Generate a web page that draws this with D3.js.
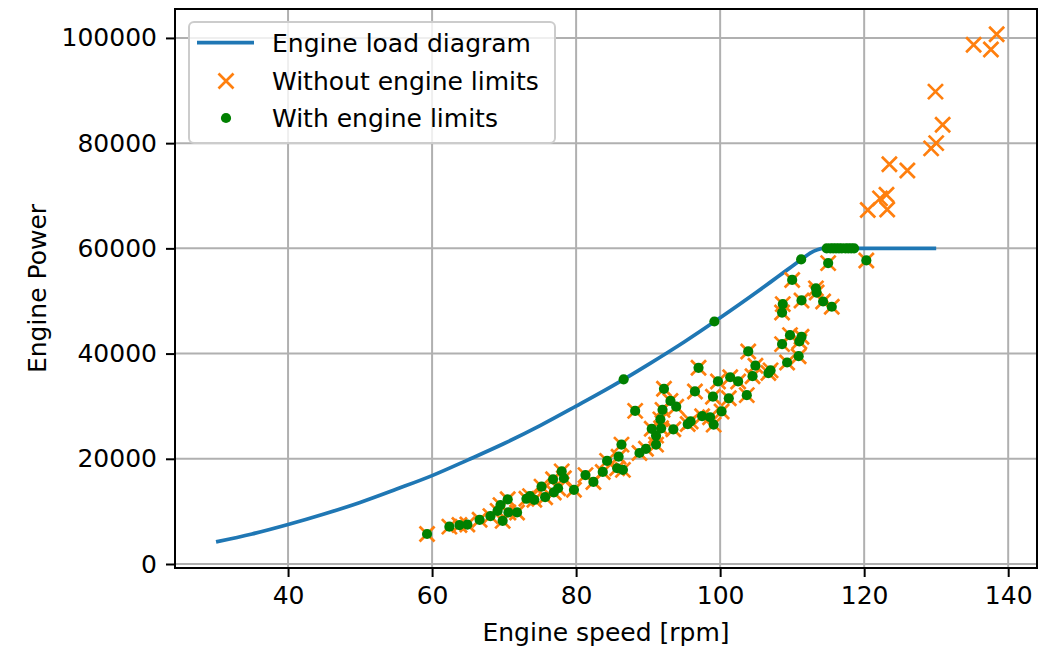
<!DOCTYPE html>
<html>
<head>
<meta charset="utf-8">
<script src="https://cdn.jsdelivr.net/npm/d3@7"></script>
<style>
  html, body { margin: 0; padding: 0; background: #fff; }
  svg { display: block; }
  text { font-family: "DejaVu Sans", sans-serif; fill: #000; }
</style>
</head>
<body>
<svg id="chart" width="1056" height="647"></svg>
<script>
// ---------- data ----------
const xTicks = [40, 60, 80, 100, 120, 140];
const yTicks = [0, 20000, 40000, 60000, 80000, 100000];

// Engine load diagram
const loadSpeed = [30, 35, 40, 45, 50, 55, 60, 65, 70, 75, 80, 85, 90, 95, 100, 105, 108, 110, 111.5, 112.5, 113.5, 114.5, 120, 125, 130];
const loadPower = [4200, 5700, 7500, 9500, 11700, 14200, 16800, 19800, 22900, 26300, 30000, 33800, 37900, 42200, 46800, 51600, 54600, 56600, 58100, 59100, 59750, 60000, 60000, 60000, 60000];

// Operating points inside the limits (shown in both series)
const insideSpeed = [59.3, 62.4, 63.8, 64.9, 66.6, 68.1, 69.8, 69.1, 69.5, 70.5, 70.6, 71.8, 73.1, 73.6, 74.2, 75.2, 75.7, 76.8, 76.9, 77.5,
  78.0, 78.3, 79.7, 81.3, 82.4, 83.7, 84.3, 85.9, 86.3, 85.7, 86.5, 88.2, 88.8, 89.7, 91.1, 90.5, 91.1, 91.7, 91.8, 92.0,
  93.5, 93.1, 92.2, 93.9, 95.5, 95.9, 97.0, 96.5, 97.5, 98.6, 99.1, 100.2, 99.0, 99.7, 101.2, 101.4, 102.5, 103.7, 104.5, 104.9,
  106.7, 107.0, 103.9, 108.6, 115.0, 120.3, 110.0, 113.3, 113.4, 111.3, 114.3, 115.5, 108.7, 108.6, 109.7, 111.3, 111.0, 110.9, 109.3];
const insidePower = [5700, 7100, 7400, 7500, 8400, 9100, 8200, 10100, 11200, 12300, 9800, 9800, 12400, 12900, 12200, 14700, 12700, 16100, 13600, 14400,
  17600, 16300, 14100, 16900, 15600, 17500, 19600, 20400, 22700, 18200, 17900, 29100, 21100, 21900, 22700, 25700, 24400, 27500, 25800, 29300,
  25600, 31000, 33300, 29900, 26600, 27100, 37300, 32800, 28100, 27900, 26500, 29000, 31800, 34700, 31500, 35500, 34700, 32100, 35700, 37700,
  36300, 36800, 40400, 41800, 57200, 57700, 54000, 52400, 51600, 50100, 49900, 48900, 49400, 47800, 43500, 43200, 42300, 39500, 38300];

// Points exceeding the limits (only without engine limits)
const excessSpeed = [120.5, 122.2, 123.1, 123.2, 123.5, 126.0, 129.3, 130.0, 130.9, 129.9, 135.2, 137.6, 138.4];
const excessPower = [67300, 69500, 70200, 67400, 76000, 74800, 79000, 80000, 83500, 89800, 98700, 97800, 100700];

// The same points after limiting (only with engine limits)
const limitedSpeed = [86.6, 99.2, 111.25, 114.8, 115.3, 115.7, 116.1, 116.5, 116.9, 117.4, 117.8, 118.2, 118.6];
const limitedPower = [35100, 46100, 57900, 60000, 60000, 60000, 60000, 60000, 60000, 60000, 60000, 60000, 60000];

const seriesNames = ["Engine load diagram", "Without engine limits", "With engine limits"];

// ---------- layout ----------
const L = 175, R = 1037, T = 9, B = 568;
const svg = d3.select("#chart");
const x = d3.scaleLinear().domain([24.3, 144.0]).range([L, R]);
const y = d3.scaleLinear().domain([-760, 105500]).range([B, T]);

const C_LINE = "#1f77b4", C_X = "#ff7f0e", C_DOT = "#008000";
const FS = 25;

// grid
const grid = svg.append("g");
grid.selectAll("line.gx").data(xTicks).join("line")
  .attr("x1", d => x(d)).attr("x2", d => x(d)).attr("y1", T).attr("y2", B)
  .attr("stroke", "#b0b0b0").attr("stroke-width", 2);
grid.selectAll("line.gy").data(yTicks).join("line")
  .attr("y1", d => y(d)).attr("y2", d => y(d)).attr("x1", L).attr("x2", R)
  .attr("stroke", "#b0b0b0").attr("stroke-width", 2);

// axes
const xAxis = d3.axisBottom(x).tickValues(xTicks).tickSize(9).tickPadding(9).tickFormat(d3.format("d"));
const yAxis = d3.axisLeft(y).tickValues(yTicks).tickSize(9).tickPadding(9).tickFormat(d3.format("d"));
const gx = svg.append("g").attr("transform", `translate(0,${B})`).call(xAxis);
const gy = svg.append("g").attr("transform", `translate(${L},0)`).call(yAxis);
[gx, gy].forEach(g => {
  g.select(".domain").remove();
  g.selectAll(".tick line").attr("stroke", "#000").attr("stroke-width", 2);
  g.selectAll(".tick text").attr("font-family", "DejaVu Sans").attr("font-size", FS).attr("fill", "#000");
});

// data
const lineData = loadSpeed.map((s, i) => [s, loadPower[i]]);
const noLimit = insideSpeed.map((s, i) => [s, insidePower[i]]).concat(excessSpeed.map((s, i) => [s, excessPower[i]]));
const withLimit = insideSpeed.map((s, i) => [s, insidePower[i]]).concat(limitedSpeed.map((s, i) => [s, limitedPower[i]]));

const plot = svg.append("g");
plot.append("path").datum(lineData)
  .attr("fill", "none").attr("stroke", C_LINE).attr("stroke-width", 3.75)
  .attr("d", d3.line().x(d => x(d[0])).y(d => y(d[1])).curve(d3.curveMonotoneX));

const xs = 7.5;
const xPath = `M${-xs},${-xs}L${xs},${xs}M${-xs},${xs}L${xs},${-xs}`;
plot.selectAll("path.xm").data(noLimit).join("path")
  .attr("class", "xm")
  .attr("transform", d => `translate(${x(d[0])},${y(d[1])})`)
  .attr("d", xPath).attr("stroke", C_X).attr("stroke-width", 2.7).attr("fill", "none");

plot.selectAll("circle.dot").data(withLimit).join("circle")
  .attr("class", "dot")
  .attr("cx", d => x(d[0])).attr("cy", d => y(d[1])).attr("r", 5.1)
  .attr("fill", C_DOT);

// spines
svg.append("rect").attr("x", L).attr("y", T).attr("width", R - L).attr("height", B - T)
  .attr("fill", "none").attr("stroke", "#000").attr("stroke-width", 2);

// axis labels
svg.append("text").attr("x", (L + R) / 2).attr("y", 641).attr("text-anchor", "middle")
  .attr("font-size", FS).text("Engine speed [rpm]");
svg.append("text").attr("transform", `translate(46,${(T + B) / 2}) rotate(-90)`).attr("text-anchor", "middle")
  .attr("font-size", FS).text("Engine Power");

// legend
const lg = svg.append("g");
lg.append("rect").attr("x", 189).attr("y", 22).attr("width", 366).attr("height", 121).attr("rx", 5)
  .attr("fill", "#fff").attr("fill-opacity", 0.8).attr("stroke", "#cccccc").attr("stroke-width", 2);
const rowsY = [42.5, 81, 118];
lg.append("line").attr("x1", 197).attr("x2", 254).attr("y1", rowsY[0]).attr("y2", rowsY[0])
  .attr("stroke", C_LINE).attr("stroke-width", 3.75);
lg.append("path").attr("transform", `translate(226,${rowsY[1]})`).attr("d", xPath)
  .attr("stroke", C_X).attr("stroke-width", 2.7).attr("fill", "none");
lg.append("circle").attr("cx", 226).attr("cy", rowsY[2]).attr("r", 5.1).attr("fill", C_DOT);
lg.selectAll("text").data(seriesNames).join("text")
  .attr("x", 272).attr("y", (d, i) => rowsY[i]).attr("dy", "0.36em")
  .attr("font-size", FS).text(d => d);
</script>
</body>
</html>
